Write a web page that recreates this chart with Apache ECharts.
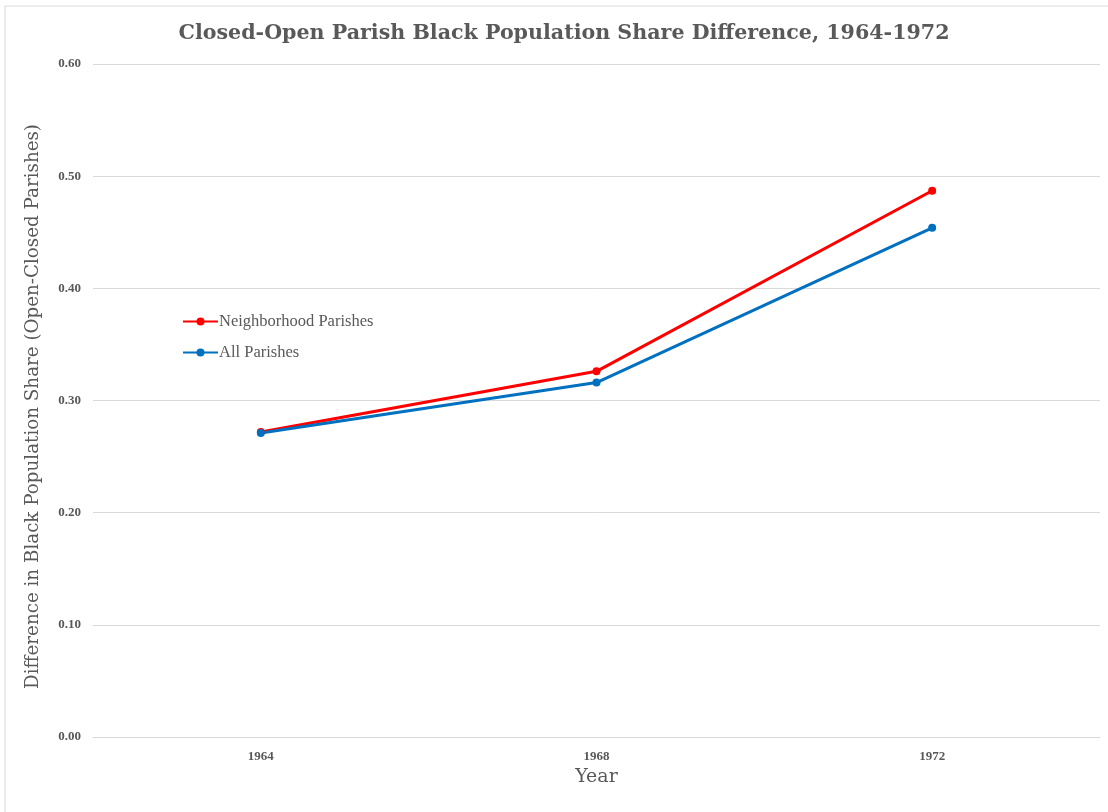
<!DOCTYPE html>
<html>
<head>
<meta charset="utf-8">
<script src="https://cdn.jsdelivr.net/npm/echarts@6/dist/echarts.min.js"></script>
<style>
html,body{margin:0;padding:0;background:#fff;}
#chart{width:1108px;height:812px;}
</style>
</head>
<body>
<div id="chart"></div>
<script>
const years = ['1964', '1968', '1972'];
const neighborhoodParishes = [0.272, 0.326, 0.487];
const allParishes = [0.271, 0.316, 0.454];
const yTicks = { min: 0, max: 0.6, interval: 0.1 };

const serif = '"Liberation Serif", "DejaVu Serif", serif';
const wideSerif = '"DejaVu Serif", "Liberation Serif", serif';
const chart = echarts.init(document.getElementById('chart'));
chart.setOption({
  backgroundColor: '#fff',
  animation: false,
  title: {
    text: 'Closed-Open Parish Black Population Share Difference, 1964-1972',
    left: 559, top: 18, textAlign: 'center',
    textStyle: { fontFamily: wideSerif, fontSize: 20.6, fontWeight: 'bold', color: '#595959' }
  },
  graphic: [{
    type: 'rect', shape: { x: 5, y: 6, width: 1110, height: 820 },
    style: { fill: 'none', stroke: '#d9d9d9', lineWidth: 1 }, silent: true
  }],
  legend: {
    left: 182, top: 313, orient: 'vertical', itemGap: 14, padding: 0,
    itemWidth: 35, itemHeight: 10,
    textStyle: { fontFamily: serif, fontSize: 16.5, color: '#595959', padding: [0, 0, 0, -4] },
    data: ['Neighborhood Parishes', 'All Parishes']
  },
  grid: { left: 93, right: 8, top: 64, bottom: 75 },
  xAxis: {
    type: 'category', data: years, boundaryGap: true,
    name: 'Year', nameLocation: 'middle', nameGap: 30,
    nameTextStyle: { fontFamily: wideSerif, fontSize: 19, color: '#595959' },
    axisLine: { show: true, lineStyle: { color: '#d9d9d9', width: 1 } },
    axisTick: { show: false },
    axisLabel: { fontFamily: serif, fontSize: 13, fontWeight: 'bold', color: '#595959', margin: 13 }
  },
  yAxis: {
    type: 'value', min: yTicks.min, max: yTicks.max, interval: yTicks.interval,
    name: 'Difference in Black Population Share (Open-Closed Parishes)',
    nameLocation: 'middle', nameGap: 51,
    nameTextStyle: { fontFamily: wideSerif, fontSize: 18.3, color: '#595959', padding: [0, 12, 0, 0] },
    axisLine: { show: false }, axisTick: { show: false },
    axisLabel: { fontFamily: serif, fontSize: 13, fontWeight: 'bold', color: '#595959', margin: 12,
      formatter: v => v.toFixed(2) },
    splitLine: { lineStyle: { color: '#d9d9d9', width: 1 } }
  },
  series: [
    { name: 'Neighborhood Parishes', type: 'line', data: neighborhoodParishes,
      symbol: 'circle', symbolSize: 8, lineStyle: { width: 3, color: '#ff0000' },
      itemStyle: { color: '#ff0000' } },
    { name: 'All Parishes', type: 'line', data: allParishes,
      symbol: 'circle', symbolSize: 8, lineStyle: { width: 3, color: '#0070c0' },
      itemStyle: { color: '#0070c0' } }
  ]
});
</script>
</body>
</html>
